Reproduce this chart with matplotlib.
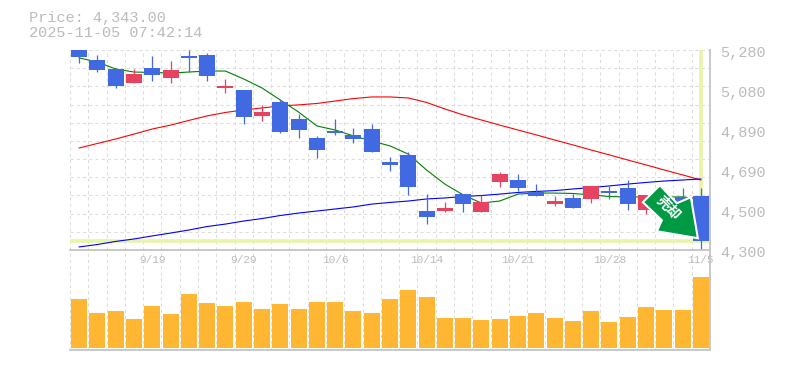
import matplotlib
matplotlib.use("Agg")
import matplotlib.pyplot as plt
from matplotlib.patches import Polygon, Rectangle
from matplotlib.transforms import Affine2D
import numpy as np

price_label = "Price: 4,343.00"
time_label = "2025-11-05 07:42:14"
last_price = 4343

opens = [5280,5231,5187,5120,5192,5144,5251,5256,5095,5084,4957,5025,4942,4849,4883,4864,4893,4731,4766,
         4491,4491,4574,4486,4633,4643,4584,4525,4555,4550,4589,4604,4496,4550,4560,4565]
highs = [5280,5256,5192,5187,5251,5226,5280,5265,5138,5084,5010,5035,4966,4859,4942,4898,4917,4756,4780,
         4574,4535,4574,4570,4682,4672,4623,4565,4574,4614,4614,4643,4570,4584,4604,4604]
lows = [5214,5174,5095,5120,5130,5120,5171,5130,5071,4917,4934,4873,4849,4751,4864,4824,4780,4687,4570,
        4427,4486,4486,4486,4609,4589,4565,4516,4506,4530,4550,4496,4476,4486,4521,4295]
closes = [5247,5183,5104,5162,5159,5182,5242,5153,5104,4953,4976,4878,4888,4790,4873,4844,4780,4716,4609,
          4462,4506,4525,4535,4672,4604,4565,4540,4506,4614,4579,4525,4570,4506,4521,4343]
ma_short = [5241,5221,5187,5172,5170,5167,5172,5177,5177,5138,5094,5035,4976,4908,4888,4859,4834,4810,4770,
            4692,4623,4570,4530,4540,4574,4579,4579,4577,4570,4562,4560,4560,4560,4560,4550]
ma_mid = [4800,4822,4844,4868,4893,4912,4935,4957,4974,4986,4996,5006,5011,5018,5030,5042,5050,5050,5045,
          5023,4991,4962,4937,4912,4888,4864,4839,4815,4790,4766,4741,4717,4692,4668,4643]
ma_long = [4315,4327,4342,4354,4369,4383,4398,4415,4427,4442,4454,4469,4481,4491,4501,4511,4525,4533,4540,
           4550,4555,4562,4567,4574,4582,4587,4591,4599,4606,4614,4623,4631,4638,4643,4648]
volumes = [49,35,37,29,42,34,54,45,42,46,39,44,39,46,46,37,35,49,58,51,30,30,28,29,32,35,30,27,37,26,31,41,38,38,71]
date_labels = {4:"9/19", 9:"9/29", 14:"10/6", 19:"10/14", 24:"10/21", 29:"10/28", 34:"11/5"}
price_ticks = [4300,4500,4690,4890,5080,5280]
signal_text = "売却"

W, H = 785, 370
FONT = "Liberation Mono"
GRAY = "#bbbbbb"
GRID = "#dcdcdc"
BLUE = "#4169e1"
RED = "#e64361"
LIME = "#e6f5a8"

fig = plt.figure(figsize=(W/100, H/100), dpi=100, facecolor="white")
ax = fig.add_axes([70/W, 1-250/H, 640/W, 200/H])
av = fig.add_axes([70/W, 1-350/H, 640/W, 100/H])
n = len(closes)
xs = np.arange(n)
edges = np.arange(n+1) - 0.5

for a in (ax, av):
    a.set_xlim(-0.5, n-0.5)
    a.set_xticks(edges)
    a.tick_params(length=0, labelbottom=False, labelleft=False)
    a.grid(axis="x", color=GRID, lw=0.75, ls=(0, (3, 3)))
    a.set_axisbelow(True)
    for s in a.spines.values():
        s.set_visible(False)

ax.set_ylim(4300, 5280)
ax.set_yticks(np.linspace(4300, 5280, 12))
ax.grid(axis="y", color=GRID, lw=0.75, ls=(0, (3, 3)))

# current price guide lines
ax.axhline(last_price, color=LIME, lw=2.6, zorder=1.2)
ax.vlines(n-1, last_price, 5280, color=LIME, lw=2.6, zorder=1.2)

ax.plot(xs, ma_mid, color="#ff0000", lw=0.8, zorder=2)
ax.plot(xs, ma_long, color="#0000ff", lw=0.8, zorder=2)
ax.plot(xs, ma_short, color="#008000", lw=0.8, zorder=2)

for i in xs:
    up = closes[i] >= opens[i]
    c = RED if up else BLUE
    ax.vlines(i, lows[i], highs[i], color=c, lw=0.9, zorder=3, clip_on=False)
    b = min(opens[i], closes[i])
    ax.add_patch(Rectangle((i-0.44, b), 0.88, abs(closes[i]-opens[i]), fc=c, ec="none", zorder=3.1))

# sell-signal arrow, anchored on the last candle (pixel offsets from it)
fig.canvas.draw()
ax_px, ay_px = ax.transData.transform((n-1, last_price))
shape = [(-41,56), (-58,39), (-39,21), (-44,10), (-3,3), (-10,44), (-24,38)]
tr = Affine2D().translate(ax_px, ay_px)
ax.add_patch(Polygon(shape, closed=True, fc="#009944", ec="white", lw=1.5, joinstyle="miter",
                     transform=tr, zorder=5, clip_on=False))
ax.text(ax_px-33, ay_px+33, signal_text, transform=Affine2D(), rotation=-45, rotation_mode="anchor",
        ha="center", va="center", color="white", fontsize=10, fontweight="bold",
        family=["Noto Sans CJK JP", "DejaVu Sans"], zorder=6)

for v in price_ticks:
    frac = (v-4300)/980
    ax.annotate(f"{v:,}", xy=(1, round(frac*5)/5), xycoords="axes fraction", xytext=(7.5, -2.5),
                textcoords="offset points", ha="left", va="center", color=GRAY,
                fontsize=11, family=FONT, annotation_clip=False)

av.set_ylim(-2, 98)
av.bar(xs, volumes, width=0.88, color="#ffb733", zorder=2)
for i, lab in date_labels.items():
    av.text(i, 88, lab, ha="center", va="center", color=GRAY, fontsize=8, family=FONT, zorder=4, clip_on=False)

# panel frame
for y0, y1, x0, x1 in [(250, 250, 70, 710), (350, 350, 70, 710), (50, 350, 710, 710)]:
    fig.add_artist(plt.Line2D([x0/W, x1/W], [1-y0/H, 1-y1/H], color="#c4c4c4", lw=1.3, zorder=7))

fig.text(29/W, 1-18/H, price_label, color=GRAY, fontsize=11, family=FONT, va="center", ha="left")
fig.text(29/W, 1-33/H, time_label, color=GRAY, fontsize=11, family=FONT, va="center", ha="left")

fig.savefig("out.png", dpi=100, facecolor="white")
